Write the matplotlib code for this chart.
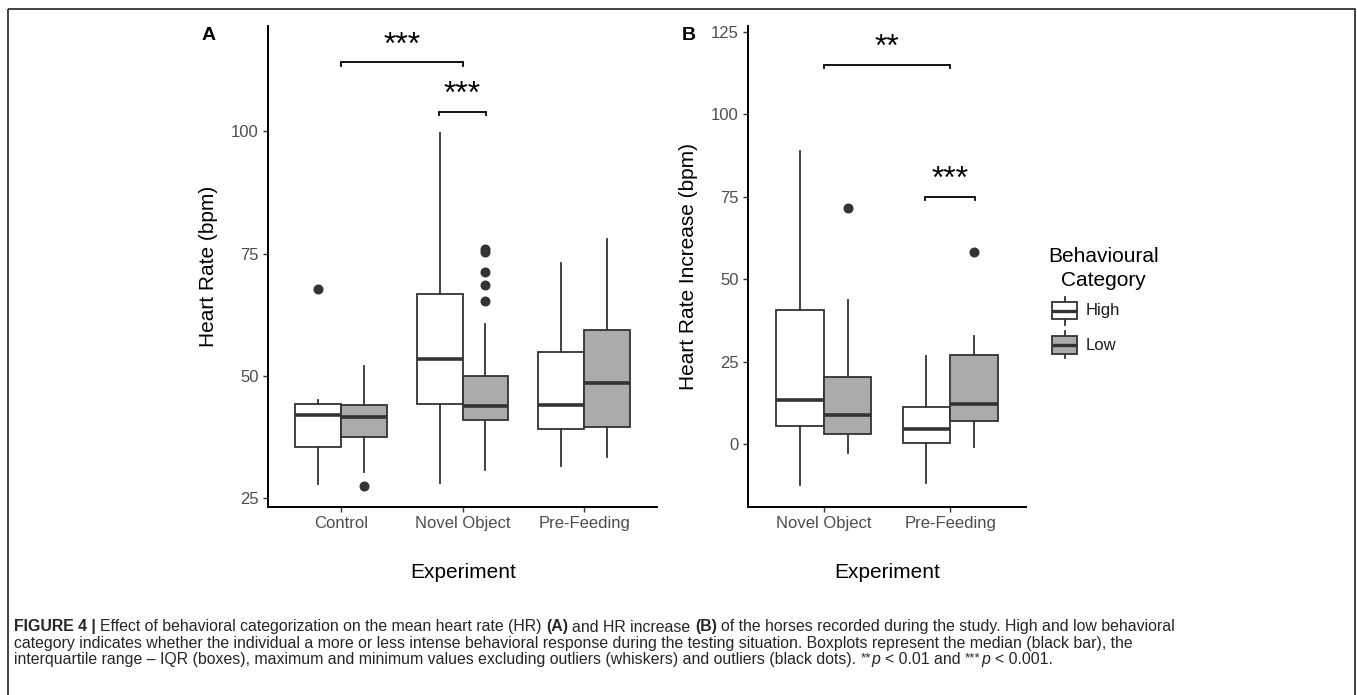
import numpy as np
import matplotlib
matplotlib.use('Agg')
import matplotlib.pyplot as plt
from matplotlib import font_manager
from matplotlib.patches import Rectangle
from matplotlib.lines import Line2D

# ---------------- data ----------------
categories = ['High', 'Low']
experiments_A = ['Control', 'Novel Object', 'Pre-Feeding']
experiments_B = ['Novel Object', 'Pre-Feeding']

# five-number summaries: [whisker low, Q1, median, Q3, whisker high]
A_high_stats = [[27.9, 35.5, 42.1, 44.2, 45.0],
                [28.1, 44.3, 53.4, 66.7, 99.7],
                [31.6, 39.1, 44.1, 54.8, 73.1]]
A_low_stats = [[30.3, 37.5, 41.5, 44.0, 52.0],
               [30.7, 40.9, 43.9, 50.0, 60.6],
               [33.5, 39.6, 48.5, 59.4, 78.0]]
A_high_outliers = [[67.8], [], []]
A_low_outliers = [[27.5], [76.0, 75.3, 71.2, 68.6, 65.3], []]

B_high_stats = [[-12.2, 5.5, 13.3, 40.6, 88.8],
                [-11.7, 0.5, 4.6, 11.3, 26.7]]
B_low_stats = [[-2.5, 3.0, 8.9, 20.4, 43.8],
               [-0.8, 7.2, 12.2, 27.1, 32.8]]
B_high_outliers = [[], []]
B_low_outliers = [[71.7], [58.2]]

# significance brackets: (x start, x end, y, label)
A_brackets = [(1.0, 2.0, 114.1, '***'), (1.81, 2.19, 104.0, '***')]
B_brackets = [(1.0, 2.0, 115.0, '**'), (1.80, 2.20, 74.9, '***')]

A_yticks = [25, 50, 75, 100]
B_yticks = [0, 25, 50, 75, 100, 125]

# ---------------- style ----------------
W, H = 1357, 695
EC = '#333333'
GRAY = '#ababab'
MAIN = ['Liberation Sans', 'DejaVu Sans']


def has_font(name):
    try:
        font_manager.findfont(font_manager.FontProperties(family=name), fallback_to_default=False)
        return True
    except Exception:
        return False


CAPFAM = ['Liberation Sans Narrow', 'Liberation Sans', 'DejaVu Sans'] if has_font('Liberation Sans Narrow') \
    else ['Liberation Sans', 'DejaVu Sans']

plt.rcParams['font.family'] = MAIN

fig = plt.figure(figsize=(W / 100, H / 100), dpi=100)
fig.patch.set_facecolor('white')


def fx(x):
    return x / W


def fy(y):
    return 1 - y / H


def make_axes(l, t, r, b):
    return fig.add_axes([fx(l), fy(b), fx(r) - fx(l), fy(t) - fy(b)])


def draw_panel(ax, labels, high_stats, low_stats, high_out, low_out, brackets, yticks, xlim, ylim, tip):
    pos = np.arange(1, len(labels) + 1)
    for stats, outs, off, fc in [(high_stats, high_out, -0.1875, 'white'),
                                 (low_stats, low_out, 0.1875, GRAY)]:
        st = [dict(whislo=s[0], q1=s[1], med=s[2], q3=s[3], whishi=s[4], fliers=o)
              for s, o in zip(stats, outs)]
        ax.bxp(st, positions=pos + off, widths=0.375, patch_artist=True, showcaps=False,
               boxprops=dict(facecolor=fc, edgecolor=EC, linewidth=1.3),
               medianprops=dict(color=EC, linewidth=2.6, solid_capstyle='butt'),
               whiskerprops=dict(color=EC, linewidth=1.3),
               flierprops=dict(marker='o', markerfacecolor=EC, markeredgecolor=EC, markersize=6.2),
               manage_ticks=False)
    for x0, x1, y, lab in brackets:
        ax.plot([x0, x0, x1, x1], [y - tip, y, y, y - tip], color='black', lw=1.3,
                clip_on=False, solid_joinstyle='miter')
        ax.annotate(lab, xy=((x0 + x1) / 2, y), xytext=(0, 6.2), textcoords='offset points',
                    ha='center', va='baseline', fontsize=23, color='black', annotation_clip=False)
    ax.set_xlim(*xlim)
    ax.set_ylim(*ylim)
    ax.set_xticks(pos)
    ax.set_xticklabels(labels)
    ax.set_yticks(yticks)
    for s in ['top', 'right']:
        ax.spines[s].set_visible(False)
    for s in ['left', 'bottom']:
        ax.spines[s].set_linewidth(1.4)
        ax.spines[s].set_color('black')
    ax.tick_params(length=3.6, width=1.0, color=EC, labelcolor='#4d4d4d', labelsize=12, pad=3)
    ax.patch.set_visible(False)


axA = make_axes(268, 26, 657, 507)
draw_panel(axA, experiments_A, A_high_stats, A_low_stats, A_high_outliers, A_low_outliers,
           A_brackets, A_yticks, (0.4, 3.6), (23.2, 121.5), 0.7)
axB = make_axes(748, 26, 1026, 507)
draw_panel(axB, experiments_B, B_high_stats, B_low_stats, B_high_outliers, B_low_outliers,
           B_brackets, B_yticks, (0.4, 2.6), (-19.0, 126.7), 1.0)

# axis titles and panel letters
fig.text(fx(208), fy(266), 'Heart Rate (bpm)', rotation=90, ha='center', va='center', fontsize=15)
fig.text(fx(689), fy(266), 'Heart Rate Increase (bpm)', rotation=90, ha='center', va='center', fontsize=15)
fig.text(fx(463), fy(572), 'Experiment', ha='center', va='center', fontsize=15)
fig.text(fx(887.5), fy(572), 'Experiment', ha='center', va='center', fontsize=15)
fig.text(fx(208.7), fy(35.5), 'A', ha='center', va='center', fontsize=14, fontweight='bold')
fig.text(fx(689), fy(35), 'B', ha='center', va='center', fontsize=14, fontweight='bold')

# overlay in pixel coordinates: legend and frame
ov = fig.add_axes([0, 0, 1, 1])
ov.set_xlim(0, W)
ov.set_ylim(H, 0)
ov.axis('off')
ov.patch.set_visible(False)

ov.add_patch(Rectangle((7.5, 8.5), 1347, 720, fill=False, edgecolor='#333333', lw=1.3, clip_on=False))

ov.text(1103.5, 256, 'Behavioural', ha='center', va='center', fontsize=15)
ov.text(1103.5, 280, 'Category', ha='center', va='center', fontsize=15)
key_specs = [(categories[0], 'white', 296.7, 301.7, 319.3, 325.0),
             (categories[1], GRAY, 330.7, 336.0, 354.0, 358.3)]
for lab, fc, wlo, btop, bbot, whi in key_specs:
    xc = 1064.5
    ov.add_line(Line2D([xc, xc], [wlo, whi], color=EC, lw=1.3))
    ov.add_patch(Rectangle((1051.7, btop), 25.6, bbot - btop, facecolor=fc, edgecolor=EC, lw=1.3, zorder=3))
    ov.add_line(Line2D([1051.7, 1077.3], [(btop + bbot) / 2] * 2, color=EC, lw=2.4, zorder=4,
                       solid_capstyle='butt'))
    ov.text(1086, (btop + bbot) / 2, lab, ha='left', va='center', fontsize=12, color='#1a1a1a')

# caption with mixed styles
renderer = fig.canvas.get_renderer()
CAP_SIZE = 11.4
CAP_COLOR = '#262626'


def measure(txt, **kw):
    t = fig.text(0, 0, txt, **kw)
    w = t.get_window_extent(renderer=renderer).width
    t.remove()
    return w


SPACE = measure('a a', fontsize=CAP_SIZE, family=CAPFAM) - measure('aa', fontsize=CAP_SIZE, family=CAPFAM)


def rich_line(x, y, parts):
    for txt, sty, gap in parts:
        kw = dict(fontsize=CAP_SIZE, family=CAPFAM, color=CAP_COLOR)
        yy = y
        if 'b' in sty:
            kw['fontweight'] = 'bold'
        if 'i' in sty:
            kw['fontstyle'] = 'italic'
        if 's' in sty:
            kw['fontsize'] = CAP_SIZE * 0.85
            yy = y - 3
        t = ov.text(x, yy, txt, ha='left', va='baseline', **kw)
        x += t.get_window_extent(renderer=renderer).width + (SPACE if gap else 0.8)


rich_line(14, 631.5, [('FIGURE 4 |', 'b', True),
                      ('Effect of behavioral categorization on the mean heart rate (HR)', '', True),
                      ('(A)', 'b', True), ('and HR increase', '', True), ('(B)', 'b', True),
                      ('of the horses recorded during the study. High and low behavioral', '', False)])
rich_line(14, 647.8, [('category indicates whether the individual a more or less intense behavioral response '
                       'during the testing situation. Boxplots represent the median (black bar), the', '', False)])
rich_line(14, 664.2, [('interquartile range \u2013 IQR (boxes), maximum and minimum values excluding outliers '
                       '(whiskers) and outliers (black dots).', '', True),
                      ('**', 's', False), ('p', 'i', True), ('< 0.01 and', '', True),
                      ('***', 's', False), ('p', 'i', True), ('< 0.001.', '', False)])

fig.savefig('out.png', dpi=100)
